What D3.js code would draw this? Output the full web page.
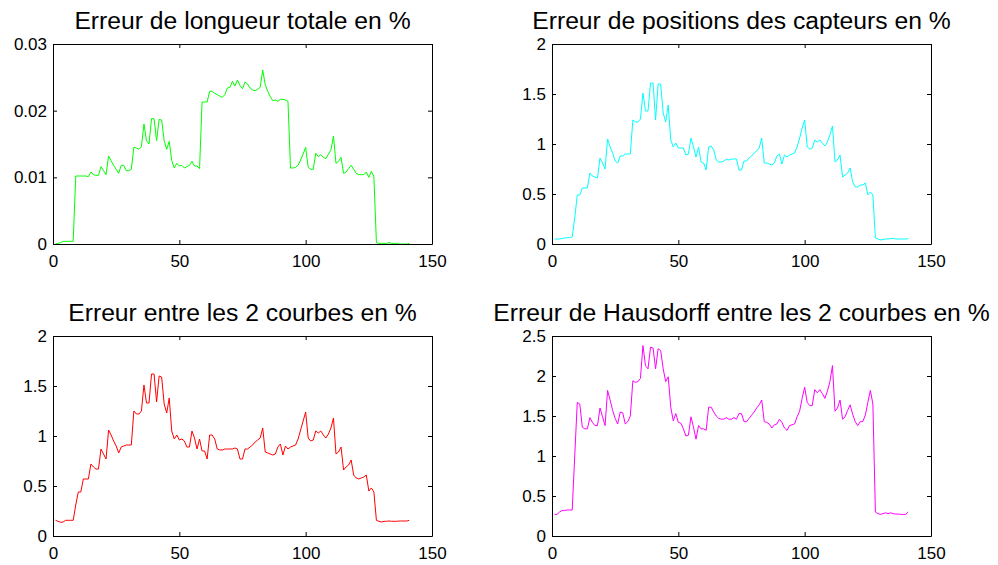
<!DOCTYPE html>
<html>
<head>
<meta charset="utf-8">
<script src="https://cdn.jsdelivr.net/npm/d3@7"></script>
<style>
  body { margin: 0; background: #fff; }
  svg { display: block; }
  text { font-family: "Liberation Sans", Arial, sans-serif; fill: #000; }
</style>
</head>
<body>
<script>
// Set dimensions
const width = 998, height = 565;

// Sample index (x axis), one value per curve point
const xs = d3.range(1, 142);

// Erreur de longueur totale en %
const longueur = [
  0.0000, 0.0001, 0.0002, 0.0004, 0.0004, 0.0004, 0.0004, 0.0004, 0.0102, 0.0102,
  0.0102, 0.0102, 0.0102, 0.0101, 0.0108, 0.0104, 0.0103, 0.0103, 0.0116, 0.0110,
  0.0104, 0.0132, 0.0125, 0.0118, 0.0112, 0.0106, 0.0118, 0.0118, 0.0110, 0.0110,
  0.0112, 0.0145, 0.0144, 0.0142, 0.0146, 0.0180, 0.0155, 0.0150, 0.0188, 0.0188,
  0.0155, 0.0187, 0.0186, 0.0155, 0.0142, 0.0154, 0.0125, 0.0114, 0.0121, 0.0117,
  0.0118, 0.0114, 0.0116, 0.0118, 0.0124, 0.0117, 0.0117, 0.0113, 0.0213, 0.0213,
  0.0213, 0.0229, 0.0229, 0.0226, 0.0224, 0.0222, 0.0220, 0.0224, 0.0234, 0.0235,
  0.0244, 0.0237, 0.0246, 0.0238, 0.0233, 0.0243, 0.0240, 0.0234, 0.0231, 0.0230,
  0.0232, 0.0235, 0.0261, 0.0239, 0.0229, 0.0221, 0.0215, 0.0216, 0.0214, 0.0217,
  0.0217, 0.0216, 0.0214, 0.0114, 0.0114, 0.0115, 0.0118, 0.0126, 0.0135, 0.0145,
  0.0115, 0.0112, 0.0112, 0.0136, 0.0131, 0.0134, 0.0130, 0.0128, 0.0135, 0.0141,
  0.0162, 0.0121, 0.0124, 0.0130, 0.0106, 0.0108, 0.0113, 0.0118, 0.0112, 0.0106,
  0.0104, 0.0104, 0.0104, 0.0108, 0.0100, 0.0109, 0.0101, 0.0002, 0.0001, 0.0001,
  0.0001, 0.0001, 0.0002, 0.0001, 0.0001, 0.0001, 0.0000, 0.0000, 0.0000, 0.0000,
  0.0001
];

// Erreur de positions des capteurs en %
const capteurs = [
  0.05, 0.05, 0.05, 0.055, 0.06, 0.063, 0.065, 0.07, 0.26, 0.49,
  0.49, 0.56, 0.56, 0.56, 0.71, 0.68, 0.67, 0.66, 0.86, 0.81,
  0.75, 1.05, 0.97, 0.91, 0.83, 0.81, 0.88, 0.88, 0.90, 0.90,
  0.90, 1.24, 1.22, 1.22, 1.25, 1.51, 1.33, 1.33, 1.61, 1.61,
  1.24, 1.60, 1.60, 1.31, 1.22, 1.39, 1.04, 0.97, 1.01, 0.96,
  0.96, 0.96, 0.89, 0.90, 1.06, 0.97, 0.87, 0.97, 0.82, 0.81,
  0.74, 0.97, 0.98, 0.94, 0.84, 0.82, 0.82, 0.83, 0.85, 0.84,
  0.85, 0.85, 0.85, 0.74, 0.74, 0.83, 0.83, 0.86, 0.88, 0.91,
  0.93, 0.96, 1.06, 0.81, 0.81, 0.80, 0.79, 0.81, 0.88, 0.90,
  0.80, 0.89, 0.87, 0.89, 0.90, 0.91, 0.97, 1.06, 1.16, 1.24,
  0.97, 0.95, 0.96, 1.04, 1.02, 1.04, 1.01, 0.98, 1.02, 1.09,
  1.18, 0.82, 0.84, 0.89, 0.67, 0.69, 0.71, 0.76, 0.62, 0.57,
  0.57, 0.59, 0.59, 0.61, 0.49, 0.52, 0.49, 0.06, 0.05, 0.04,
  0.045, 0.05, 0.05, 0.055, 0.055, 0.05, 0.05, 0.05, 0.05, 0.05,
  0.055
];

// Erreur entre les 2 courbes en %
const courbes = [
  0.157, 0.147, 0.137, 0.14, 0.157, 0.157, 0.157, 0.157, 0.31, 0.44,
  0.44, 0.57, 0.57, 0.57, 0.72, 0.69, 0.67, 0.67, 0.87, 0.82,
  0.77, 1.06, 1.01, 0.95, 0.90, 0.83, 0.89, 0.90, 0.91, 0.91,
  0.91, 1.25, 1.22, 1.22, 1.25, 1.51, 1.33, 1.33, 1.62, 1.62,
  1.34, 1.60, 1.59, 1.32, 1.23, 1.38, 1.05, 0.97, 1.01, 0.96,
  0.97, 0.95, 0.89, 0.89, 1.05, 0.98, 0.87, 0.97, 0.85, 0.85,
  0.77, 1.01, 1.01, 0.97, 0.87, 0.86, 0.86, 0.87, 0.87, 0.87,
  0.87, 0.88, 0.87, 0.77, 0.77, 0.87, 0.87, 0.89, 0.91, 0.94,
  0.96, 0.98, 1.08, 0.84, 0.83, 0.82, 0.81, 0.82, 0.89, 0.92,
  0.81, 0.90, 0.87, 0.89, 0.90, 0.91, 0.97, 1.06, 1.15, 1.24,
  0.98, 0.95, 0.96, 1.05, 1.03, 1.05, 1.01, 0.98, 1.02, 1.08,
  1.18, 0.82, 0.84, 0.89, 0.66, 0.69, 0.71, 0.76, 0.61, 0.58,
  0.57, 0.58, 0.59, 0.61, 0.45, 0.48, 0.44, 0.157, 0.147, 0.14,
  0.147, 0.147, 0.15, 0.147, 0.147, 0.147, 0.15, 0.15, 0.15, 0.15,
  0.157
];

// Erreur de Hausdorff entre les 2 courbes en %
const hausdorff = [
  0.27, 0.27, 0.30, 0.32, 0.32, 0.325, 0.325, 0.325, 1.0, 1.67,
  1.65, 1.36, 1.34, 1.34, 1.48, 1.42, 1.38, 1.38, 1.60, 1.49,
  1.38, 1.82, 1.70, 1.57, 1.47, 1.40, 1.55, 1.54, 1.40, 1.43,
  1.50, 1.94, 1.92, 1.93, 1.97, 2.38, 2.13, 2.09, 2.36, 2.35,
  2.09, 2.34, 2.32, 2.09, 1.93, 1.99, 1.61, 1.44, 1.53, 1.42,
  1.41, 1.34, 1.25, 1.26, 1.49, 1.36, 1.21, 1.38, 1.34, 1.34,
  1.32, 1.61, 1.61, 1.55, 1.50, 1.47, 1.46, 1.46, 1.48, 1.46,
  1.46, 1.48, 1.46, 1.53, 1.53, 1.43, 1.43, 1.47, 1.51, 1.55,
  1.60, 1.64, 1.70, 1.43, 1.42, 1.40, 1.35, 1.39, 1.40, 1.46,
  1.42, 1.35, 1.32, 1.38, 1.39, 1.40, 1.49, 1.56, 1.72, 1.86,
  1.67, 1.63, 1.63, 1.83, 1.79, 1.83, 1.78, 1.72, 1.81, 1.93,
  2.13, 1.56, 1.60, 1.70, 1.46, 1.49, 1.57, 1.64, 1.52, 1.43,
  1.38, 1.43, 1.43, 1.51, 1.67, 1.82, 1.65, 0.30, 0.28, 0.27,
  0.28, 0.29, 0.28, 0.29, 0.28, 0.275, 0.275, 0.27, 0.27, 0.27,
  0.30
];

// Tick values and labels
const xTicks = [0, 50, 100, 150];
const yTicksLongueur = [0, 0.01, 0.02, 0.03];
const yLabelsLongueur = ["0", "0.01", "0.02", "0.03"];
const yTicks2 = [0, 0.5, 1, 1.5, 2];
const yLabels2 = ["0", "0.5", "1", "1.5", "2"];
const yTicks25 = [0, 0.5, 1, 1.5, 2, 2.5];
const yLabels25 = ["0", "0.5", "1", "1.5", "2", "2.5"];

const titles = [
  "Erreur de longueur totale en %",
  "Erreur de positions des capteurs en %",
  "Erreur entre les 2 courbes en %",
  "Erreur de Hausdorff entre les 2 courbes en %"
];
const colors = ["#00ff00", "#00ffff", "#ff0000", "#ff00ff"];

// panel frames (MATLAB subplot 2x2)
const cols = [{ left: 53, right: 432 }, { left: 552, right: 931 }];
const rows = [{ top: 44, bottom: 244 }, { top: 336, bottom: 536 }];

const panels = [
  { title: titles[0], values: longueur, color: colors[0], ymax: 0.03, yt: yTicksLongueur, yl: yLabelsLongueur, col: 0, row: 0 },
  { title: titles[1], values: capteurs, color: colors[1], ymax: 2, yt: yTicks2, yl: yLabels2, col: 1, row: 0 },
  { title: titles[2], values: courbes, color: colors[2], ymax: 2, yt: yTicks2, yl: yLabels2, col: 0, row: 1 },
  { title: titles[3], values: hausdorff, color: colors[3], ymax: 2.5, yt: yTicks25, yl: yLabels25, col: 1, row: 1 }
];

const svg = d3.select("body").append("svg")
    .attr("width", width)
    .attr("height", height);

panels.forEach(p => {
    const c = cols[p.col], r = rows[p.row];

    let x = d3.scaleLinear().domain([0, 150]).range([c.left, c.right]);
    let y = d3.scaleLinear().domain([0, p.ymax]).range([r.bottom, r.top]);

    const g = svg.append("g");

    // white plot area
    g.append("rect")
        .attr("x", c.left).attr("y", r.top)
        .attr("width", c.right - c.left).attr("height", r.bottom - r.top)
        .attr("fill", "#fff");

    // curve
    let line = d3.line().x((d, i) => x(xs[i])).y(d => y(d));
    g.append("path")
        .datum(p.values)
        .attr("d", line)
        .attr("fill", "none")
        .attr("stroke", p.color)
        .attr("stroke-width", 1);

    // axes, ticks pointing inward on all four sides
    const styleAxis = sel => {
        sel.select(".domain").attr("stroke", "#000").attr("stroke-width", 1);
        sel.selectAll(".tick line").attr("stroke", "#000");
        sel.selectAll("text").style("font-family", "Liberation Sans, Arial, sans-serif").style("font-size", "17px").attr("fill", "#000");
    };

    g.append("g")
        .attr("transform", `translate(0,${r.bottom})`)
        .call(d3.axisBottom(x).tickValues(xTicks).tickFormat(d3.format("d")).tickSizeInner(-4).tickSizeOuter(0).tickPadding(11))
        .call(styleAxis);

    g.append("g")
        .attr("transform", `translate(0,${r.top})`)
        .call(d3.axisTop(x).tickValues(xTicks).tickFormat("").tickSizeInner(-4).tickSizeOuter(0))
        .call(styleAxis);

    g.append("g")
        .attr("transform", `translate(${c.left},0)`)
        .call(d3.axisLeft(y).tickValues(p.yt).tickFormat((d, i) => p.yl[i]).tickSizeInner(-4).tickSizeOuter(0).tickPadding(6))
        .call(styleAxis);

    g.append("g")
        .attr("transform", `translate(${c.right},0)`)
        .call(d3.axisRight(y).tickValues(p.yt).tickFormat("").tickSizeInner(-4).tickSizeOuter(0))
        .call(styleAxis);

    // title
    svg.append("text")
        .attr("x", (c.left + c.right) / 2)
        .attr("y", r.top - 15)
        .attr("text-anchor", "middle")
        .style("font-size", "24.7px")
        .text(p.title);
});
</script>
</body>
</html>
